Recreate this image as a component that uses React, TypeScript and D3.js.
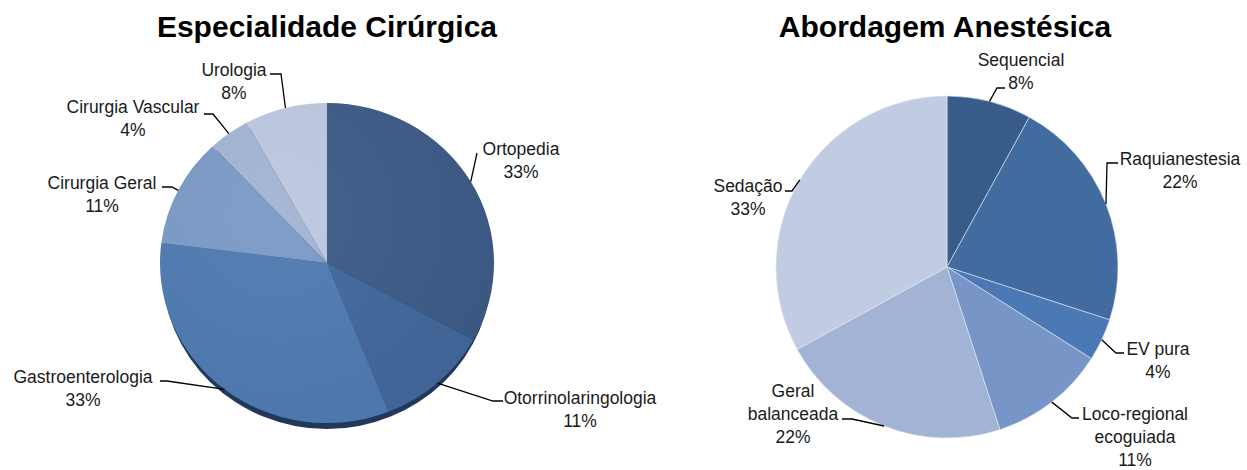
import React from "react";
import * as d3 from "d3";

// ---- Data ----
const leftTitle = "Especialidade Cirúrgica";
const leftCategories = ["Ortopedia", "Otorrinolaringologia", "Gastroenterologia", "Cirurgia Geral", "Cirurgia Vascular", "Urologia"];
const leftValues = [33, 11, 33, 11, 4, 8];
const leftColors = ["#3c5a87", "#41679b", "#4f7bb2", "#7a9ac6", "#a3b4d4", "#bdc8df"];

const rightTitle = "Abordagem Anestésica";
const rightCategories = ["Sequencial", "Raquianestesia", "EV pura", "Loco-regional ecoguiada", "Geral balanceada", "Sedação"];
const rightValues = [8, 22, 4, 11, 22, 33];
const rightColors = ["#385c8a", "#426b9f", "#4a79b5", "#7795c6", "#a2b3d5", "#c1cce2"];

// ---- Layout (label placement, not data) ----
type LabelLayout = { lines: string[]; x: number; y: number; p1: [number, number]; p2: [number, number] };

const leftLabels: LabelLayout[] = [
  { lines: ["Ortopedia"], x: 521, y: 155, p1: [477, 153], p2: [477, 153] },
  { lines: ["Otorrinolaringologia"], x: 580, y: 404, p1: [503, 401], p2: [493, 401] },
  { lines: ["Gastroenterologia"], x: 83, y: 383, p1: [160, 381], p2: [167, 381] },
  { lines: ["Cirurgia Geral"], x: 102, y: 189, p1: [162, 187], p2: [172, 187] },
  { lines: ["Cirurgia Vascular"], x: 133, y: 113, p1: [204, 114], p2: [213, 114] },
  { lines: ["Urologia"], x: 234, y: 76, p1: [270, 74], p2: [281, 74] },
];

const rightLabels: LabelLayout[] = [
  { lines: ["Sequencial"], x: 1021, y: 66, p1: [1005, 88], p2: [997, 88] },
  { lines: ["Raquianestesia"], x: 1180, y: 165, p1: [1118, 163], p2: [1107, 163] },
  { lines: ["EV pura"], x: 1158, y: 355, p1: [1124, 353], p2: [1116, 353] },
  { lines: ["Loco-regional", "ecoguiada"], x: 1135, y: 420, p1: [1079, 418], p2: [1072, 418] },
  { lines: ["Geral", "balanceada"], x: 793, y: 397, p1: [842, 419], p2: [852, 419] },
  { lines: ["Sedação"], x: 748, y: 192, p1: [785, 191], p2: [792, 191] },
];

const FONT = "'Liberation Sans', Arial, sans-serif";
const LABEL_SIZE = 17.5;
const LINE_H = 23;

type PieProps = {
  title: string;
  titleX: number;
  categories: string[];
  values: number[];
  colors: string[];
  labels: LabelLayout[];
  cx: number;
  cy: number;
  rx: number;
  ry: number;
  shadow: boolean;
  sepStroke: string;
};

function Pie(props: PieProps) {
  const { title, titleX, categories, values, colors, labels, cx, cy, rx, ry, shadow, sepStroke } = props;
  const pie = d3.pie<number>().sort(null).value((d) => d);
  const arcs = pie(values);
  const arc = d3.arc<d3.PieArcDatum<number>>().innerRadius(0).outerRadius(ry);
  const sx = rx / ry;
  const total = d3.sum(values);
  const anchor = (a: d3.PieArcDatum<number>): [number, number] => {
    const m = (a.startAngle + a.endAngle) / 2;
    return [cx + rx * Math.sin(m), cy - ry * Math.cos(m)];
  };
  const gradId = "grad-" + title.replace(/[^a-z]/gi, "");
  return (
    <g>
      <text x={titleX} y={37} textAnchor="middle" fontFamily={FONT} fontWeight="bold" fontSize={30} fill="#000">
        {title}
      </text>
      <defs>
        <radialGradient id={gradId} cx="0.35" cy="0.35" r="0.8">
          <stop offset="0" stopColor="#fff" stopOpacity={0.05} />
          <stop offset="1" stopColor="#000" stopOpacity={0.04} />
        </radialGradient>
      </defs>
      {shadow && (
        <ellipse cx={cx} cy={cy + 6} rx={rx - 2} ry={ry} fill="#22385a" />
      )}
      <g transform={`translate(${cx},${cy}) scale(${sx},1)`}>
        {arcs.map((a, i) => (
          <path
            key={categories[i]}
            d={arc(a) || ""}
            fill={colors[i]}
            stroke={sepStroke}
            strokeWidth={sepStroke === "none" ? 0 : 0.6}
            vectorEffect="non-scaling-stroke"
          />
        ))}
        {shadow && <ellipse cx={0} cy={0} rx={ry} ry={ry} fill={`url(#${gradId})`} />}
      </g>
      {arcs.map((a, i) => {
        const l = labels[i];
        const [ax, ay] = anchor(a);
        const pct = Math.round((values[i] / total) * 100) + "%";
        return (
          <g key={"lab" + i}>
            <polyline
              points={`${l.p1[0]},${l.p1[1]} ${l.p2[0]},${l.p2[1]} ${ax},${ay}`}
              fill="none"
              stroke="#000"
              strokeWidth={1.3}
            />
            {l.lines.concat([pct]).map((t, j) => (
              <text
                key={j}
                x={l.x}
                y={l.y + j * LINE_H}
                textAnchor="middle"
                fontFamily={FONT}
                fontSize={LABEL_SIZE}
                fill="#1a1a1a"
              >
                {t}
              </text>
            ))}
          </g>
        );
      })}
    </g>
  );
}

export default function App() {
  return (
    <svg
      width={1247}
      height={470}
      style={{ position: "absolute", left: 0, top: 0, background: "#fff" }}
    >
      <rect x={0} y={0} width={1247} height={470} fill="#fff" />
      <Pie
        title={leftTitle}
        titleX={327}
        categories={leftCategories}
        values={leftValues}
        colors={leftColors}
        labels={leftLabels}
        cx={327}
        cy={263}
        rx={167}
        ry={160}
        shadow={true}
        sepStroke="none"
      />
      <Pie
        title={rightTitle}
        titleX={945}
        categories={rightCategories}
        values={rightValues}
        colors={rightColors}
        labels={rightLabels}
        cx={947}
        cy={267}
        rx={171}
        ry={171}
        shadow={false}
        sepStroke="#e3e9f2"
      />
    </svg>
  );
}
